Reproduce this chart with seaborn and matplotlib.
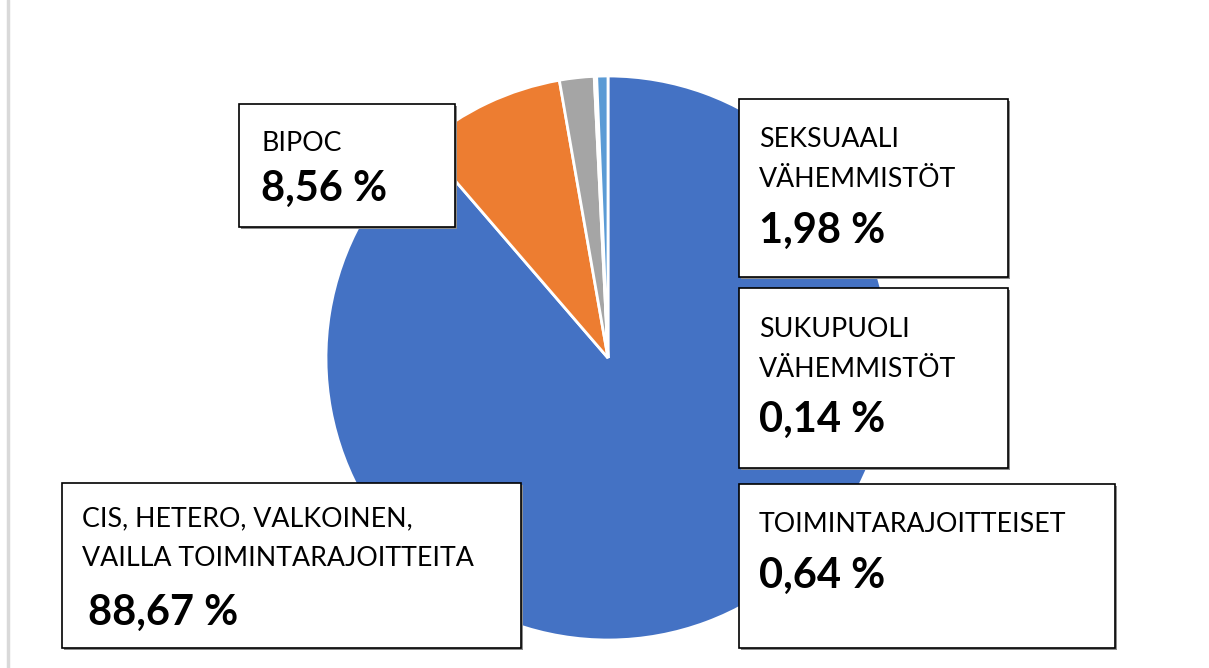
import matplotlib
matplotlib.use('Agg')
import matplotlib.pyplot as plt
import seaborn as sns
from matplotlib.patches import Rectangle

# --- Données ---
groups = [
    "CIS, HETERO, VALKOINEN,\nVAILLA TOIMINTARAJOITTEITA",
    "BIPOC",
    "SEKSUAALI\nVÄHEMMISTÖT",
    "SUKUPUOLI\nVÄHEMMISTÖT",
    "TOIMINTARAJOITTEISET",
]
shares = [88.67, 8.56, 1.98, 0.14, 0.64]
colors = ['#4472C4', '#ED7D31', '#A5A5A5', '#FFC000', '#5B9BD5']

# boîtes d'étiquettes en pixels : x0, y0, x1, y1, x texte, 1re ligne, x gras, ligne grasse
boxes = [
    (62, 483, 521, 648, 82, 526, 88, 625),
    (239, 104, 455, 227, 261, 151, 261, 201),
    (739, 99, 1008, 277, 759, 147, 759, 243),
    (739, 288, 1008, 468, 759, 337, 759, 432),
    (739, 484, 1115, 648, 759, 532, 759, 588),
]

W, H = 1209, 668
sns.set_theme(style='white')
plt.rcParams['font.family'] = ['Lato', 'DejaVu Sans']

fig = plt.figure(figsize=(W / 100, H / 100), dpi=100)
ax = fig.add_axes([0, 0, 1, 1])


def py(y):
    return H - y


ax.pie(shares, colors=colors, startangle=90, counterclock=False,
       center=(608, py(358)), radius=282, frame=True,
       wedgeprops={'edgecolor': 'white', 'linewidth': 2})
ax.set_xlim(0, W)
ax.set_ylim(0, H)
ax.axis('off')

# ligne grise à gauche
ax.plot([7.5, 7.5], [0, H], color='#d9d9d9', linewidth=2.5, zorder=1)

for label, val, (x0, y0, x1, y1, tx, ty, bx, by) in zip(groups, shares, boxes):
    ax.add_patch(Rectangle((x0 + 2, py(y1) - 2), x1 - x0, y1 - y0,
                           facecolor='#8c8c8c', edgecolor='none', zorder=3))
    ax.add_patch(Rectangle((x0, py(y1)), x1 - x0, y1 - y0,
                           facecolor='white', edgecolor='black', linewidth=1.2, zorder=4))
    for i, line in enumerate(label.split('\n')):
        ax.text(tx, py(ty + 40 * i), line, fontsize=19.3, va='baseline', ha='left',
                color='black', zorder=5)
    pct = f"{val:.2f} %".replace('.', ',')
    ax.text(bx, py(by), pct, fontsize=30, fontweight='bold', va='baseline',
            ha='left', color='black', zorder=5)

fig.savefig('out.png', dpi=100, facecolor='white')
